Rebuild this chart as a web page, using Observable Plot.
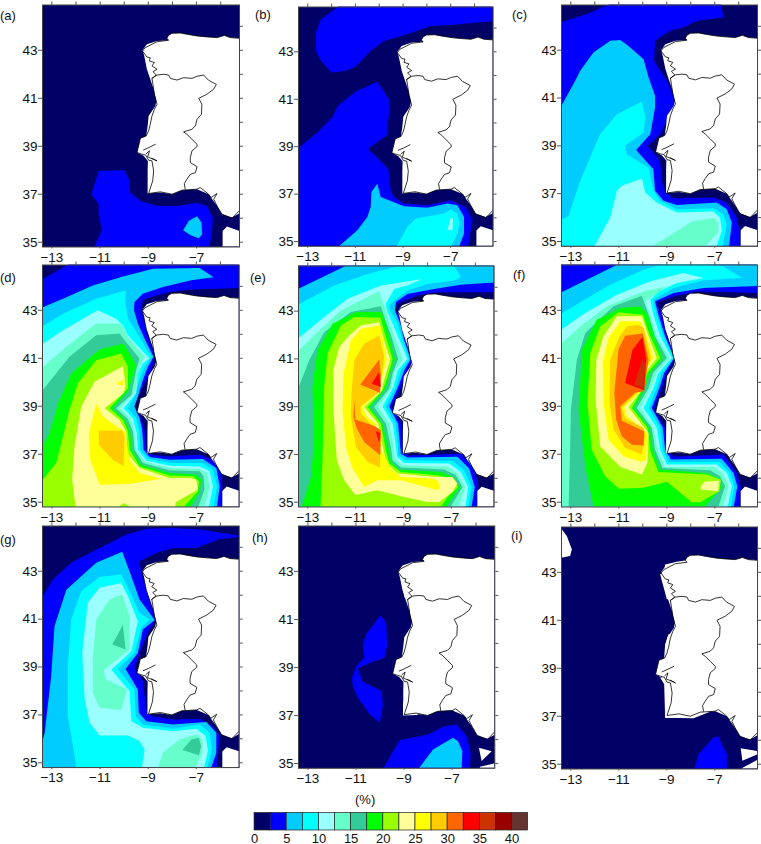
<!DOCTYPE html>
<html>
<head>
<meta charset="utf-8">
<script src="https://cdn.jsdelivr.net/npm/d3@7"></script>
<script src="https://cdn.jsdelivr.net/npm/@observablehq/plot@0.6"></script>
<style>
html,body{margin:0;padding:0;background:#fff}
#page{position:relative;width:761px;height:844px;overflow:hidden;font-family:"Liberation Sans",Arial,sans-serif;color:#111}
.lab{position:absolute;font-size:13px;line-height:14px}
</style>
</head>
<body>
<div id="page"></div>
<script>
// Colour classes: each class spans 2.5 % from the level listed beside it
const levels = [0,2.5,5,7.5,10,12.5,15,17.5,20,22.5,25,27.5,30,32.5,35,37.5,40];
const colors = ["#000066","#0000ff","#00ccff","#00ffff","#99ffff","#66ffcc","#33cc99","#00ff00","#99ff00","#ffff99","#ffff00","#ffcc00","#ff6600","#ff0000","#cc3300","#990000","#663333"];
const lonTicks = [-13,-12,-11,-10,-9,-8,-7,-6];
const lonLabels = [-13,-11,-9,-7];
const latTicks = [35,36,37,38,39,40,41,42,43,44];
const latLabels = [35,37,39,41,43];
const barLabels = [0,5,10,15,20,25,30,35,40];
const lonDomain = [-13.39,-5.22];
const latDomain = [34.8,44.89];

// Land, lon/lat pairs
const land = [-5.21,43.5,-5.6,43.53,-5.85,43.62,-6.15,43.53,-6.57,43.56,-6.98,43.6,-7.4,43.67,-7.67,43.72,-8.02,43.71,-8.16,43.63,-8.23,43.5,-8.16,43.42,-8.64,43.39,-9.06,43.25,-9.24,43,-9.17,42.76,-9.06,42.21,-8.92,41.79,-8.78,41.38,-8.67,40.89,-8.71,40.68,-8.99,40.26,-9.03,39.85,-9.09,39.43,-9.33,39.33,-9.47,38.74,-9.2,38.6,-9.02,38.39,-9.03,37.97,-9.03,37.03,-8.5,37.07,-8.02,37,-7.6,37.17,-6.98,37.21,-6.5,37,-6.15,36.51,-5.95,36.17,-5.53,36.03,-5.21,36.33,-5,36.33,-5,43.5];
const coast = [-5.21,43.5,-5.6,43.53,-5.85,43.62,-6.15,43.53,-6.57,43.56,-6.98,43.6,-7.4,43.67,-7.67,43.72,-8.02,43.71,-8.16,43.63,-8.23,43.5,-8.16,43.42,-8.64,43.36,-9.13,43.11,-9.24,42.97,-9.06,42.72,-8.92,42.69,-8.96,42.56,-8.75,42.49,-8.85,42.35,-8.64,42.21,-8.81,42.11,-8.67,41.97,-8.85,41.83,-8.81,41.58,-8.75,41.17,-8.64,40.75,-8.75,40.54,-8.85,40.26,-8.92,39.92,-8.99,39.64,-9.09,39.43,-9.33,39.33,-9.47,38.74,-9.27,38.67,-9.11,38.63,-8.99,38.42,-8.85,38.39,-8.78,37.97,-8.82,37.56,-8.99,37.03,-8.5,37.1,-8.02,37,-7.61,37.17,-6.98,37.21,-6.85,37.28,-6.5,37,-6.4,36.86,-6.15,37.03,-6.29,36.79,-6.15,36.51,-5.95,36.17,-5.53,36,-5.21,36.33];
const tagus = [-9.2,38.85,-8.99,38.94,-8.71,39.08];
const sado = [-9.09,38.69,-8.95,38.81,-9.03,38.56,-8.64,38.39,-8.85,38.5];
const border = [-8.85,41.83,-8.64,41.97,-8.37,42,-8.16,41.97,-8.09,41.83,-7.81,41.76,-7.54,41.86,-7.19,41.83,-6.98,41.92,-6.71,41.97,-6.5,41.75,-6.18,41.58,-6.29,41.38,-6.57,41.17,-6.91,41,-6.78,40.75,-6.8,40.33,-6.98,40.13,-7.05,39.85,-7.19,39.71,-7.54,39.6,-7.4,39.5,-7.19,39.29,-6.98,39.08,-6.98,38.99,-7.19,38.81,-7.26,38.53,-7.26,38.32,-6.98,38.15,-7.05,37.9,-7.26,37.83,-7.4,37.63,-7.51,37.44,-7.47,37.21];
const africa = [-5.92,35.47,-5.74,35.65,-5.1,35.4,-5.1,34.7,-5.92,34.7];

// Blank areas beyond the land in the last two maps
const blankH = [
  [-9.11,42.6,-8.97,41.9,-8.77,41.9,-8.84,42.6],
  [-8.84,40.17,-9.02,39.75,-8.77,39.75],
  [-9.04,38.5,-8.84,38.08,-8.77,38.5],
  [-8.84,37.88,-9.04,37.53,-9.04,37,-8.42,37.02,-8.7,37.88],
  [-5.88,35.65,-5.35,35.51,-5.77,35.1],
  [-5.84,34.86,-5.19,35.06,-5.19,34.7,-5.84,34.7]
];
const blankI = [
  [-13.5,45,-13.39,44.89,-13.17,44.51,-12.96,43.96,-13.03,43.68,-13.5,43.57],
  [-9.11,43.06,-9.07,43.33,-8.58,43.44,-8.17,43.5,-8.17,43,-8.8,42.9],
  [-9.28,42.92,-9,41.88,-8.72,41.88,-9,43],
  [-8.93,40.42,-9.07,40,-9.11,39.44,-8.72,39.44,-8.7,40.4],
  [-9.28,38.61,-9.11,38.33,-9.07,36.94,-8.72,36.94,-8.72,38.47],
  [-9.07,36.94,-7.89,36.92,-7.19,37.19,-7.19,37.4,-9,37.3],
  [-5.92,35.67,-5.1,35.51,-5.85,35.14],
  [-5.88,34.83,-5.1,35.3,-5.1,34.7,-5.88,34.7]
];

// Each band: [colour class, boundary of the area at or above that class as lon/lat pairs]
const panelA = [
 [1,[-11.34,34.8,-10.93,35.5,-11.06,36.17,-11.06,36.58,-11.37,37,-11.06,37.97,-10,38.01,-9.78,37.56,-9.75,37.07,-9.33,36.72,-8.64,36.51,-7.81,36.51,-6.98,36.65,-6.57,36.51,-6.33,36.03,-6.36,35.47,-6.5,34.8]],
 [2,[-7.56,35.5,-7.32,35.89,-6.98,36.08,-6.8,35.82,-6.77,35.33,-6.91,35.17,-7.25,35.29]]
];
const panelB = [
 [1,[-5.22,44.89,-11.48,44.89,-11.97,44.72,-12.45,44.37,-12.66,43.81,-12.66,43.04,-12.45,42.62,-12,42.13,-11.41,42.2,-10.99,42.37,-10.36,43.04,-9.8,43.46,-8.82,43.74,-7.84,44.09,-7,44.13,-6.02,44.23,-5.22,44.3]],
 [1,[-13.39,38.77,-12.59,39.61,-11.97,40.24,-11.73,40.73,-10.99,41.33,-10.08,41.74,-9.59,41.01,-9.59,40.38,-9.69,39.47,-10.47,38.91,-9.62,38.07,-9.52,37.16,-9.38,36.88,-8.96,36.6,-7.98,36.53,-7,36.74,-6.37,36.46,-6.09,35.9,-6.3,34.8,-13.39,34.8]],
 [2,[-11.92,34.8,-10.92,35.48,-10.5,36.04,-10.36,36.46,-10.33,37.09,-10.08,37.44,-9.94,36.88,-8.96,36.49,-7.98,36.43,-7.14,36.6,-6.72,36.53,-6.44,36.04,-6.44,35.34,-6.72,34.8]],
 [3,[-9.38,34.8,-8.82,35.62,-8.47,35.97,-7.28,36.18,-7,36.35,-6.72,36.18,-6.62,35.76,-6.72,35.34,-7.07,34.8]],
 [4,[-7.14,35.5,-7,35.97,-6.9,36,-6.93,35.48]]
];
const panelC = [
 [1,[-13.39,44.11,-12.19,44.57,-11.01,44.89,-6.78,44.89,-6.64,44.37,-7.75,44.23,-8.31,43.95,-8.86,43.81,-9.49,43.39,-9.53,42.55,-9,41.72,-8.65,40.95,-8.86,40.32,-9.28,39.49,-9.79,39,-9.28,38.37,-9.21,37.54,-9.07,37.05,-8.72,36.81,-7.06,36.84,-6.5,36.63,-6.08,36,-5.94,35.31,-5.94,34.8,-13.39,34.8]],
 [2,[-13.39,40.3,-12.82,41.72,-12.61,42.14,-12.06,42.9,-11.36,43.39,-10.94,43.43,-10.6,43.18,-9.97,42.62,-9.76,41.86,-9.49,41.09,-9.49,40.6,-9.69,39.49,-10.28,38.83,-9.56,38.02,-9.49,37.12,-9.14,36.7,-8.58,36.53,-6.92,36.63,-6.5,36.35,-6.29,35.79,-6.43,34.8,-13.39,34.8]],
 [3,[-13.39,35.79,-13.1,36.07,-12.61,37.54,-11.78,39.49,-11.08,40.32,-10.04,40.85,-9.9,40.25,-9.97,39.56,-10.74,39,-10.67,38.65,-9.76,38.09,-9.56,37.12,-9.28,36.7,-8.58,36.35,-7.06,36.39,-6.64,36.14,-6.5,35.72,-6.71,34.8,-13.39,34.8]],
 [4,[-12.13,34.8,-11.36,36,-11.08,37.12,-10.88,37.33,-10.04,37.63,-9.9,37.05,-9.42,36.63,-8.58,36.21,-7.06,36.26,-6.78,36,-6.71,35.45,-6.99,34.8]],
 [5,[-9.97,34.8,-9,35.17,-7.96,35.84,-7.06,35.98,-6.85,35.79,-6.85,35.38,-7.61,34.8]]
];
const panelD = [
 [1,[-13.39,44.18,-11.99,44.89,-5.22,44.89,-5.22,43.94,-6.17,43.9,-7.42,43.86,-8.25,43.73,-9.22,43.44,-9.29,43,-9.15,42.45,-9.01,41.89,-8.73,41.13,-8.87,40.51,-9.22,39.82,-9.61,38.99,-9.29,38.5,-9.15,38.02,-9.08,37.19,-8.87,36.98,-8.25,36.91,-6.86,36.98,-6.31,36.77,-5.96,36.22,-5.92,35.66,-5.96,34.8,-13.39,34.8]],
 [2,[-13.39,43.03,-12.54,43.48,-11.3,44.04,-10.05,44.41,-8.8,44.73,-6.86,44.77,-6.28,44.38,-7.21,44.25,-8.39,43.97,-9.22,43.69,-9.57,43.35,-9.59,43,-9.43,42.45,-9.15,41.82,-8.78,41.06,-9.01,40.65,-9.22,40.09,-9.43,39.4,-9.57,38.99,-9.36,38.5,-9.25,38.02,-9.19,37.19,-8.94,36.88,-8.11,36.77,-6.73,36.8,-6.17,36.43,-6.03,35.66,-6.17,34.8,-13.39,34.8]],
 [3,[-13.39,42.2,-12.54,42.86,-11.16,43.48,-9.94,43.83,-9.94,43.28,-9.84,42.65,-9.36,41.89,-9.08,41.41,-8.87,41.06,-9.15,40.65,-9.36,40.09,-9.57,39.4,-9.84,38.92,-9.5,38.5,-9.36,37.95,-9.33,37.19,-9.01,36.81,-8.11,36.63,-6.73,36.63,-6.31,36.35,-6.14,35.66,-6.31,34.8,-13.39,34.8]],
 [4,[-13.39,41.45,-12.54,42.17,-11.09,43,-10.33,42.65,-10.05,42.38,-9.84,41.96,-9.08,41.13,-8.94,40.99,-9.22,40.79,-9.43,40.37,-9.5,39.54,-10.02,38.92,-9.64,38.5,-9.47,37.88,-9.43,37.19,-9.08,36.74,-8.11,36.52,-6.86,36.49,-6.45,36.29,-6.31,35.66,-6.52,34.8,-13.39,34.8]],
 [5,[-13.39,40.44,-12.4,41.48,-11.16,42.45,-10.12,42.45,-9.84,41.89,-9.15,41.06,-9.36,40.65,-9.57,39.54,-10.19,38.92,-9.75,38.5,-9.57,37.95,-9.5,37.19,-9.15,36.7,-8.11,36.43,-6.86,36.38,-6.56,36.22,-6.45,35.66,-6.7,34.8,-13.39,34.8]],
 [6,[-13.39,39.4,-12.27,41.06,-11.16,41.96,-10.19,42.03,-9.98,41.75,-9.36,40.99,-9.5,40.51,-9.7,39.47,-10.33,38.92,-9.84,38.46,-9.63,37.95,-9.57,37.19,-9.22,36.63,-8.11,36.33,-6.86,36.29,-6.7,36.08,-6.66,35.53,-7,34.8,-13.39,34.8]],
 [7,[-13.39,36.92,-13.1,37.88,-12.75,39.12,-12.2,40.37,-11.02,41.37,-10.02,41.62,-9.5,40.72,-9.84,39.61,-10.47,38.92,-9.98,38.46,-9.75,37.95,-9.67,37.19,-9.29,36.56,-8.11,36.22,-7,36.15,-6.8,35.94,-6.86,35.46,-7.35,34.8,-13.39,34.8]],
 [8,[-13.39,35.66,-12.82,36.63,-12.54,37.74,-12.27,38.85,-11.92,39.96,-11.16,40.92,-10.12,41.2,-9.84,40.65,-9.84,39.75,-10.6,38.92,-10.05,38.43,-9.84,37.95,-9.77,37.19,-9.36,36.5,-8.11,36.11,-7.14,36.08,-6.89,35.87,-6.93,35.46,-7.7,34.8,-13.39,34.8]],
 [9,[-11.99,34.8,-12.16,35.94,-12.06,37.33,-11.78,38.99,-11.23,40.02,-10.05,40.67,-9.94,39.89,-10.02,39.54,-10.81,38.92,-10.19,38.43,-9.91,37.95,-9.88,37.05,-9.36,36.43,-8.11,36.01,-7.28,36.01,-7,35.94,-6.93,35.53,-7.86,35,-7.9,34.8,-9.36,34.8,-10.02,34.97,-10.47,34.8]],
 [10,[-11.16,39.12,-11.46,37.88,-11.41,36.77,-11.02,35.73,-9.77,35.77,-8.46,35.98,-9.36,36.22,-9.77,36.77,-9.98,37.95,-10.6,38.36,-10.88,38.57]],
 [10,[-10.35,39.93,-10.02,40.12,-10.02,39.85]],
 [11,[-11.05,37.98,-10.08,37.98,-9.98,37.71,-10.02,36.5,-10.47,36.77,-11.05,37.39]]
];
const panelE = [
 [1,[-13.39,44.89,-5.22,44.89,-5.22,43.79,-6.33,43.79,-7.58,43.79,-8.42,43.66,-9.28,43.31,-9.32,43.03,-9.04,42.47,-8.91,41.7,-8.63,41,-8.84,40.52,-9.11,39.82,-9.5,39,-9.11,38.29,-9.04,37.31,-9.04,37.1,-8.77,36.96,-6.6,37.03,-6.05,36.48,-5.88,35.64,-5.94,34.8,-13.39,34.8]],
 [2,[-13.39,43.84,-11,44.89,-5.22,44.89,-5.22,44.21,-6.61,44.11,-7.72,43.93,-8.84,43.72,-9.32,43.38,-9.36,43.03,-9.14,42.47,-8.97,41.77,-8.7,41,-8.97,40.52,-9.23,39.82,-9.6,39.01,-9.23,38.29,-9.14,37.31,-9.11,37.03,-8.84,36.87,-6.75,36.9,-6.26,36.41,-6.03,35.64,-6.19,34.8,-13.39,34.8]],
 [3,[-13.39,43.17,-11.9,44.07,-10.51,44.56,-9.39,44.84,-7,44.89,-6.61,44.42,-6.89,44.28,-8,44.14,-8.84,43.86,-9.39,43.45,-9.6,43.24,-9.56,43.03,-9.25,42.47,-9.04,41.77,-8.77,41,-9.11,40.52,-9.32,39.82,-9.74,39.01,-9.35,38.29,-9.23,37.31,-9.23,36.97,-8.91,36.76,-6.96,36.73,-6.47,36.34,-6.16,35.64,-6.33,34.8,-13.39,34.8]],
 [4,[-13.39,41.7,-12.32,42.75,-11.34,43.52,-9.95,44.07,-8.21,44.35,-8.84,44.07,-9.39,43.93,-9.74,43.31,-9.7,43.03,-9.46,42.47,-9.11,41.63,-8.84,41,-9.25,40.52,-9.43,39.82,-9.88,39.01,-9.46,38.29,-9.32,37.31,-9.28,36.9,-8.97,36.64,-7.09,36.62,-6.61,36.27,-6.3,35.64,-6.44,34.8,-13.39,34.8]],
 [5,[-13.39,41.15,-12.39,42.33,-11.62,43.03,-10.02,43.84,-9.74,43.03,-9.53,42.33,-9.04,41,-9.39,40.45,-9.53,39.75,-10.06,39.01,-9.6,38.29,-9.42,37.31,-9.36,36.83,-9.04,36.55,-7.16,36.48,-6.75,36.2,-6.43,35.64,-6.75,34.8,-13.39,34.8]],
 [6,[-13.39,39.27,-12.94,40.94,-12.32,42.12,-11.2,42.96,-9.95,43.2,-9.78,42.68,-9.5,41.91,-9.23,41,-9.46,40.38,-9.6,39.75,-10.23,38.99,-9.74,38.29,-9.53,37.31,-9.46,36.76,-9.11,36.45,-7.3,36.37,-6.82,36.13,-6.54,35.64,-7.16,34.8,-13.39,34.8]],
 [7,[-13.32,34.8,-12.87,36.06,-12.74,37.59,-12.81,39.82,-12.6,41.35,-11.97,42.47,-10.99,42.96,-9.92,42.96,-9.7,42.33,-9.36,41,-9.6,40.31,-9.74,39.75,-10.4,38.99,-9.88,38.29,-9.64,37.31,-9.53,36.69,-9.18,36.37,-7.44,36.27,-6.93,36.06,-6.64,35.64,-7.37,34.8]],
 [8,[-12.48,34.8,-12.39,36.76,-12.32,39.82,-12.18,41.22,-11.62,42.4,-11.06,42.75,-9.97,42.72,-9.74,41.91,-9.46,41,-9.67,40.24,-9.88,39.68,-10.5,38.99,-9.95,38.29,-9.74,37.17,-9.6,36.62,-9.11,36.27,-7.58,36.13,-6.96,35.99,-6.72,35.64,-7.16,35.22,-7.58,34.8]],
 [9,[-11.02,35.3,-11.48,35.92,-11.79,36.76,-11.93,38.85,-11.94,40.52,-11.69,41.5,-11.27,41.98,-10.79,42.4,-10.02,42.54,-9.74,41.5,-9.56,41,-9.78,40.24,-9.95,39.61,-10.65,38.99,-10.06,38.29,-9.84,37.17,-9.7,36.62,-9.25,36.2,-7.65,36.06,-6.96,36.06,-6.75,35.78,-6.96,35.43,-7.51,35.01,-8,35.01,-9.11,35.25,-10.09,35.5]],
 [10,[-11.51,40.38,-11.55,38.85,-11.41,37.31,-11.13,36.41,-10.65,35.64,-10.09,35.92,-9.11,35.92,-7.58,35.5,-7.47,35.6,-7.58,35.92,-7.86,35.99,-9.11,36.06,-9.53,36.41,-9.92,37.17,-10.16,38.29,-10.53,38.57,-10.72,38.99,-10.09,39.54,-9.88,40.31,-9.7,41,-9.98,42.4,-10.79,42.26,-11.2,41.77]],
 [11,[-11.18,39.54,-11.2,38.57,-10.99,37.31,-10.51,36.69,-9.99,36.45,-9.92,38.01,-10.37,38.29,-10.79,38.71,-10.79,39.01,-10.02,39.61,-9.92,40.31,-9.81,41.08,-10.02,41.98,-10.65,41.63,-11.06,40.94]],
 [12,[-10.81,39.93,-10.02,40.98,-9.95,40.31,-9.98,39.57]],
 [12,[-11.06,39.27,-11.02,38.46,-10.23,38.19,-9.95,38.01,-9.98,36.97,-10.65,37.52,-10.95,38.08,-11.1,38.57]],
 [13,[-10.33,39.96,-10.02,40.45,-9.95,39.82]],
 [13,[-10.16,37.97,-9.98,37.9,-10.02,37.48]]
];
const panelF = [
 [1,[-13.39,44.89,-5.22,44.89,-5.22,43.72,-6.64,43.76,-7.75,43.79,-8.72,43.58,-9.42,43.33,-9.21,42.82,-9,41.92,-8.65,41.01,-9,40.39,-9.21,39.76,-9.53,38.86,-9.07,38.1,-8.97,37.19,-8.72,36.89,-6.64,36.99,-6.08,36.22,-5.92,35.67,-5.97,34.8,-13.39,34.8]],
 [2,[-13.39,43.65,-10.67,44.89,-5.22,44.89,-5.22,44.03,-6.36,43.97,-7.47,43.93,-8.72,43.72,-9.49,43.38,-9.35,42.82,-9.07,41.92,-8.69,41.01,-9.11,40.39,-9.31,39.76,-9.63,38.93,-9.17,38.1,-9.07,37.19,-8.83,36.78,-6.71,36.81,-6.22,36.22,-6.06,35.67,-6.25,34.8,-13.39,34.8]],
 [3,[-13.39,42.75,-12.54,43.38,-11.36,44.07,-9.97,44.69,-8.58,44.89,-6.64,44.83,-5.87,44.35,-7.47,44.25,-8.72,43.93,-9.56,43.44,-9.53,43.24,-9.42,42.82,-9.14,41.92,-8.72,41.01,-9.21,40.39,-9.42,39.76,-9.76,38.93,-9.28,38.1,-9.17,37.19,-8.93,36.68,-6.81,36.68,-6.36,36.22,-6.19,35.67,-6.36,34.8,-13.39,34.8]],
 [4,[-13.39,42.06,-12.4,42.89,-11.08,43.65,-9.69,44.21,-8.31,44.56,-7.47,44.35,-8.58,44.14,-9.35,43.79,-9.69,43.44,-9.56,42.82,-9.28,41.92,-8.79,41.01,-9.35,40.39,-9.56,39.76,-9.97,38.93,-9.42,38.1,-9.28,37.19,-9,36.57,-6.92,36.57,-6.5,36.22,-6.29,35.67,-6.5,34.8,-13.39,34.8]],
 [5,[-13.39,41.43,-12.61,42.33,-11.5,43.17,-9.97,43.79,-9,44,-9.9,43.38,-9.69,42.82,-9.42,41.92,-8.89,41.01,-9.44,40.39,-9.67,39.76,-10.11,38.93,-9.56,38.1,-9.39,37.19,-9.07,36.47,-7.03,36.47,-6.64,36.19,-6.43,35.67,-6.71,34.8,-13.39,34.8]],
 [6,[-13.1,34.8,-13.03,37.19,-13,38.86,-12.75,40.94,-12.4,42.06,-11.22,43.17,-10.04,43.61,-9.76,42.82,-9.49,41.92,-9,41.01,-9.58,40.39,-9.76,39.76,-10.25,38.93,-9.63,38.1,-9.49,37.19,-9.17,36.43,-7.19,36.33,-6.78,36.08,-6.57,35.67,-6.92,34.8]],
 [7,[-12.01,34.8,-12.4,36.5,-12.68,38.86,-12.54,41.36,-11.92,42.61,-10.94,43.1,-10.11,43.17,-9.79,42.82,-9.56,41.99,-9.17,41.01,-9.69,40.39,-9.9,39.76,-10.36,38.93,-9.72,38.1,-9.58,37.19,-9.28,36.36,-7.33,36.22,-6.85,36.01,-6.71,35.6,-7.61,34.8]],
 [8,[-11,35.56,-9.97,35.6,-9,35.85,-7.96,35,-7.61,35,-6.81,35.46,-6.75,35.94,-7.33,36.15,-9.35,36.26,-9.69,37.13,-9.81,38.1,-10.46,38.93,-10,39.76,-9.81,40.39,-9.28,41.01,-9.72,41.99,-10,42.82,-11.01,42.92,-11.78,42.33,-12.19,41.22,-12.31,39.14,-12.13,37.19,-11.57,36.08]],
 [9,[-11.94,40.94,-11.97,39.28,-11.78,37.33,-10.94,36.47,-10.04,36.15,-9.81,36.64,-9.76,37.89,-10.6,38.96,-10.07,39.63,-9.86,40.46,-9.42,41.01,-9.81,42.06,-10.04,42.75,-11.08,42.75,-11.64,41.92]],
 [9,[-7.58,35.67,-7.42,35.85,-6.83,35.89,-6.86,35.46,-7.58,35.53]],
 [10,[-11.67,40.81,-11.64,39.14,-11.43,37.61,-10.81,36.92,-10.04,36.68,-9.86,36.78,-9.81,37.89,-10.67,38.58,-10.78,38.96,-10.14,39.56,-9.9,40.46,-9.56,41.01,-9.9,42.13,-10.11,42.54,-10.94,42.54,-11.43,41.85]],
 [11,[-11.36,40.94,-11.39,39.14,-11.22,38.03,-10.74,37.26,-10.04,36.99,-9.9,37.75,-9.97,38.1,-10.74,38.51,-10.88,38.93,-10.18,39.63,-9.97,40.25,-9.67,41.01,-9.97,42.26,-10.18,42.4,-10.67,42.33,-11.01,41.85]],
 [12,[-11.01,41.39,-11.19,39.56,-11.11,38.44,-10.88,37.75,-10.46,37.4,-9.97,37.36,-9.94,37.96,-10.88,38.4,-10.94,39,-10.32,39.56,-9.97,39.63,-9.76,40.94,-10.01,42.03,-10.74,41.94]],
 [13,[-10.74,39.97,-10.43,41.36,-10.01,41.89,-9.86,41.01,-9.94,39.67]],
 [14,[-10.36,39.9,-10.01,40.97,-9.9,40.67,-9.97,39.76]]
];
const panelG = [
 [1,[-13.39,41.61,-12.96,42.65,-12.2,43.35,-11.02,43.97,-9.91,44.53,-9.08,44.77,-7.97,44.81,-6.86,44.74,-5.22,44.46,-6.03,44.35,-7,43.97,-7.97,43.97,-8.66,43.76,-9.36,43.42,-9.29,42.93,-9.01,41.96,-8.69,41.01,-9.01,40.43,-9.36,39.59,-9.57,38.96,-9.22,38.41,-9.08,37.23,-8.87,36.95,-7.97,36.81,-6.86,36.84,-6.31,36.53,-6.03,36.12,-6.17,34.8,-13.39,34.8]],
 [2,[-13.39,35.14,-13.3,36.25,-13.03,38.62,-12.89,40.71,-12.4,42.23,-11.16,43.35,-10.08,43.81,-9.7,42.79,-9.36,41.82,-8.73,40.96,-9.22,40.57,-9.43,39.59,-9.94,38.92,-9.43,38.06,-9.39,37.09,-9.08,36.74,-7.97,36.6,-6.59,36.7,-6.17,36.25,-6.17,35.42,-6.45,34.8,-13.39,34.8]],
 [3,[-11.95,34.8,-12.1,35.56,-12.34,36.95,-12.34,39.04,-12.2,40.98,-11.78,42.17,-11.02,42.76,-10.12,42.86,-9.77,42.17,-9.36,41.26,-8.94,40.98,-9.29,40.64,-9.57,39.59,-10.26,38.92,-9.57,38.06,-9.52,36.95,-9.22,36.6,-7.97,36.42,-6.86,36.6,-6.45,36.25,-6.35,35.56,-6.59,34.8]],
 [4,[-11.74,39.59,-11.64,37.65,-11.43,36.67,-11.02,36.14,-9.84,36.14,-9.36,35.91,-9.15,35.56,-9.29,34.8,-6.72,34.8,-6.52,35.49,-6.61,36.12,-7,36.42,-7.97,36.32,-9.22,36.46,-9.7,36.74,-9.77,37.99,-10.53,38.89,-9.7,39.66,-9.43,40.91,-9.84,41.96,-10.12,42.51,-11.02,42.31,-11.51,41.68]],
 [5,[-11.3,39.31,-11.3,37.92,-11.02,37.3,-10.12,37.2,-9.88,38.06,-10.74,38.48,-10.85,38.87,-9.77,39.73,-9.77,41.12,-10.09,42.03,-10.6,41.82,-11.16,40.98]],
 [5,[-8.66,34.8,-8.39,35.42,-7.69,35.98,-7,36.19,-6.75,35.98,-6.75,35.42,-7.14,34.8]],
 [6,[-10.49,39.94,-10.05,40.75,-9.94,39.73]],
 [6,[-7.58,35.53,-7.2,35.98,-6.89,36.04,-6.8,35.7,-6.89,35.32]]
];
const panelH = [
 [1,[-9.98,41.17,-9.74,40.86,-9.7,39.89,-9.81,39.4,-10.51,39.15,-10.92,38.96,-10.72,38.4,-9.92,38.01,-9.88,37.39,-10.01,36.69,-10.44,37.07,-10.92,37.74,-11.13,38.22,-11.16,38.57,-10.99,39.06,-10.65,39.4,-10.72,39.89,-10.58,40.38]],
 [1,[-9.98,34.8,-9.18,35.97,-8,36.21,-7.37,36.53,-6.82,36.63,-6.4,36.14,-6.22,35.44,-6.26,34.8]],
 [2,[-8.53,34.8,-7.79,35.58,-6.96,36.07,-6.75,35.93,-6.57,35.51,-6.61,34.8]]
];
const panelI = [
 [1,[-7.92,34.8,-7.68,35.42,-7.06,36.11,-6.85,36.15,-6.5,35.42,-6.5,34.8]]
];

// Letter, bands, blank areas, frame in page pixels, letter position
const panels = [
 {name:"(a)",bands:panelA,blanks:[africa],box:[42.3,239.3,4,246],tag:[0,9]},
 {name:"(b)",bands:panelB,blanks:[africa],box:[297.7,492.3,6,245.3],tag:[255,8]},
 {name:"(c)",bands:panelC,blanks:[africa],box:[561.3,757.3,4,245.3],tag:[512,8]},
 {name:"(d)",bands:panelD,blanks:[africa],box:[42.3,239,264.7,506.7],tag:[0,271]},
 {name:"(e)",bands:panelE,blanks:[africa],box:[297.7,493.3,265,506],tag:[250,271]},
 {name:"(f)",bands:panelF,blanks:[africa],box:[561.3,757.3,264.7,506.7],tag:[513,268]},
 {name:"(g)",bands:panelG,blanks:[africa],box:[42.3,239,525.7,767.3],tag:[0,533]},
 {name:"(h)",bands:panelH,blanks:blankH,box:[297.7,494,525.7,768],tag:[252,531]},
 {name:"(i)",bands:panelI,blanks:blankI,box:[561.3,757.3,526,768],tag:[511,529]}
];

const pairs = flat => d3.range(0, flat.length, 2).map(i => [flat[i], flat[i + 1]]);
// Points lying on the frame edge are pushed just past it so that the clip closes the area
const toEdge = ([lon, lat]) => [
  lon <= lonDomain[0] + 0.01 ? -13.6 : lon >= lonDomain[1] - 0.01 ? -5 : lon,
  lat <= latDomain[0] + 0.01 ? 34.6 : lat >= latDomain[1] - 0.01 ? 45.1 : lat
];
const area = (flat, fill) => Plot.line(pairs(flat).map(toEdge), {x: d => d[0], y: d => d[1], curve: "linear-closed", fill, stroke: "none", clip: true});
const path = flat => Plot.line(pairs(flat), {x: d => d[0], y: d => d[1], stroke: "#000", strokeWidth: 0.8, clip: true});
const minus = d => d < 0 ? "\u2212" + (-d) : String(d);
const tickColor = "#555";

const page = document.getElementById("page");
const mL = 40, mR = 4, mT = 4.5, mB = 20;
for (const p of panels) {
  const [l, r, t, b] = p.box;
  const fig = Plot.plot({
    width: r - l + mL + mR,
    height: b - t + mT + mB,
    marginLeft: mL, marginRight: mR, marginTop: mT, marginBottom: mB,
    x: {domain: lonDomain, axis: null},
    y: {domain: latDomain, axis: null},
    style: {position: "absolute", left: (l - mL) + "px", top: (t - mT) + "px", background: "transparent", overflow: "visible", fontFamily: "'Liberation Sans', Arial, sans-serif", fontSize: "13.5px", color: "#111", maxWidth: "none"},
    marks: [
      Plot.frame({fill: colors[0], stroke: "none"}),
      ...p.bands.map(([c, flat]) => area(flat, colors[c])),
      ...p.blanks.map(flat => area(flat, "#fff")),
      area(land, "#fff"),
      path(coast), path(tagus), path(sado), path(border),
      Plot.frame({stroke: "#444", strokeWidth: 1}),
      Plot.axisX({anchor: "top", ticks: lonTicks, tickSize: 4, tickFormat: () => "", label: null, stroke: tickColor}),
      Plot.axisY({anchor: "right", ticks: latTicks, tickSize: 3, tickFormat: () => "", label: null, stroke: tickColor}),
      Plot.axisX({anchor: "bottom", ticks: lonLabels, tickSize: 2, tickPadding: 3, tickFormat: minus, label: null, stroke: tickColor}),
      Plot.axisY({anchor: "left", ticks: latLabels, tickSize: 4, tickPadding: 1, tickFormat: String, label: null, stroke: tickColor})
    ]
  });
  page.appendChild(fig);
  const tag = document.createElement("div");
  tag.className = "lab";
  tag.textContent = p.name;
  tag.style.left = p.tag[0] + "px";
  tag.style.top = p.tag[1] + "px";
  page.appendChild(tag);
}

// Unit label and colour bar
const unit = document.createElement("div");
unit.className = "lab";
unit.textContent = "(%)";
unit.style.left = "355px";
unit.style.top = "793px";
page.appendChild(unit);

const cells = levels.map((v, i) => ({from: v, to: v + 2.5, color: colors[i]}));
const bar = Plot.plot({
  width: 293.7, height: 34,
  marginLeft: 10, marginRight: 10, marginTop: 0.5, marginBottom: 16,
  x: {domain: [0, 42.5], axis: null},
  y: {domain: [0, 1], axis: null},
  color: {type: "identity"},
  style: {position: "absolute", left: "244px", top: "811.5px", background: "transparent", overflow: "visible", fontFamily: "'Liberation Sans', Arial, sans-serif", fontSize: "13px", color: "#111", maxWidth: "none"},
  marks: [
    Plot.rect(cells, {x1: "from", x2: "to", y1: () => 0, y2: () => 1, fill: "color", stroke: "#222", strokeWidth: 0.7, inset: 0}),
    Plot.axisX({anchor: "bottom", ticks: barLabels, tickSize: 0, tickPadding: 3, label: null})
  ]
});
page.appendChild(bar);
</script>
</body>
</html>
